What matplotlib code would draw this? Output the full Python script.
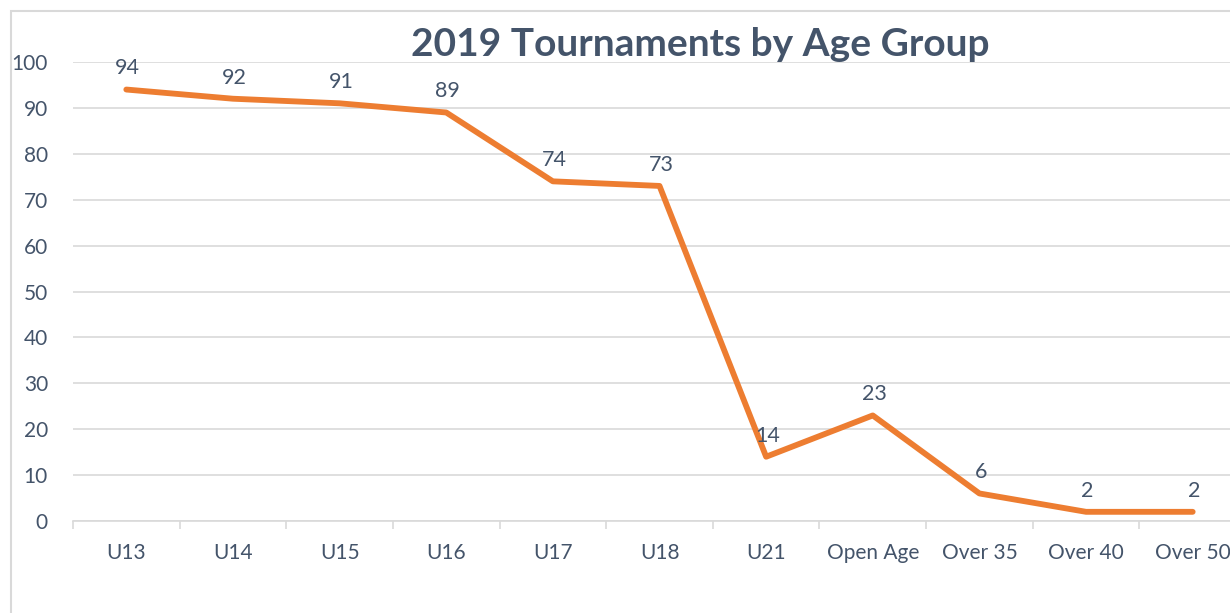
import matplotlib

matplotlib.use("Agg")
import matplotlib.pyplot as plt
from matplotlib.patches import Rectangle

categories = ["U13", "U14", "U15", "U16", "U17", "U18", "U21",
              "Open Age", "Over 35", "Over 40", "Over 50"]
tournaments = [94, 92, 91, 89, 74, 73, 14, 23, 6, 2, 2]
y_ticks = list(range(0, 101, 10))

W, H = 1230, 613
TEXT = "#44546A"
GRID = "#D9D9D9"
ORANGE = "#ED7D31"

plt.rcParams["font.family"] = ["Lato", "DejaVu Sans"]

fig = plt.figure(figsize=(W / 100, H / 100), dpi=100)

# chart frame (runs past the right and bottom edges like the cropped source)
fig.patches.append(Rectangle((11 / W, -0.1), 1.2, 1 - 11 / H + 0.1,
                             transform=fig.transFigure, fill=False,
                             edgecolor=GRID, linewidth=1.5))

left, right = 73 / W, 1246 / W
bottom, top = 1 - 521 / H, 1 - 62 / H
ax = fig.add_axes([left, bottom, right - left, top - bottom])

x = list(range(len(categories)))
ax.plot(x, tournaments, color=ORANGE, linewidth=4.2, solid_capstyle="round",
        solid_joinstyle="round", zorder=3)
for xi, v in zip(x, tournaments):
    ax.annotate(str(v), (xi, v), xytext=(1, 8), textcoords="offset points",
                ha="center", va="bottom", fontsize=15.5, color=TEXT)

ax.set_xlim(-0.5, len(categories) - 0.5)
ax.set_ylim(0, 100)
ax.set_yticks(y_ticks)
ax.set_xticks(x)
ax.set_xticklabels(categories)
ax.set_xticks([i - 0.5 for i in range(len(categories) + 1)], minor=True)
ax.tick_params(axis="x", which="major", length=0, pad=16, labelsize=15, labelcolor=TEXT)
ax.tick_params(axis="x", which="minor", length=6, color=GRID, width=1.2)
ax.tick_params(axis="y", length=0, pad=18, labelsize=15, labelcolor=TEXT)
ax.yaxis.grid(True, color=GRID, linewidth=1.2)
ax.set_axisbelow(True)
for s in ["top", "right", "left"]:
    ax.spines[s].set_visible(False)
ax.spines["bottom"].set_color(GRID)
ax.spines["bottom"].set_linewidth(1.2)

fig.text(700 / W, 1 - 45 / H, "2019 Tournaments by Age Group", ha="center",
         va="center", fontsize=28, fontweight="bold", color=TEXT)

fig.savefig("out.png", dpi=100)
